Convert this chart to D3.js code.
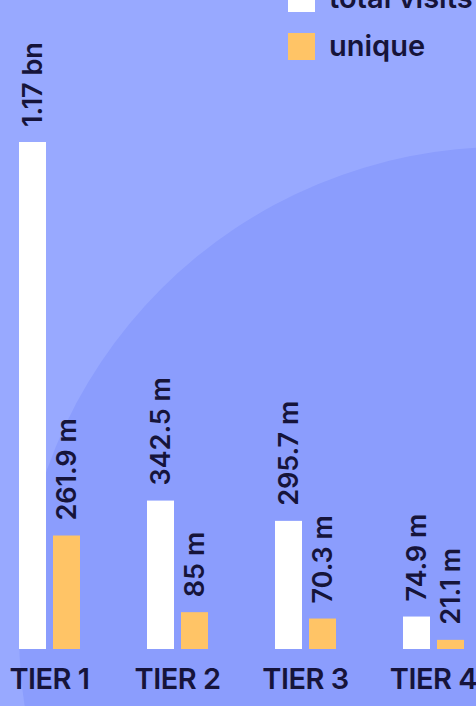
<!DOCTYPE html>
<html lang="en">
<head>
    <meta charset="utf-8"/>
    <title>Visits by tier</title>
    <script src="https://d3js.org/d3.v7.min.js"></script>
    <style>
        html, body { margin: 0; padding: 0; background: #98a9ff; overflow: hidden; }
        svg { display: block; }
        text { font-family: Inter, "Noto Sans", sans-serif; fill: #16143a; }
    </style>
</head>
<body>
<script>
    // chart data (values in millions)
    const tiers = ["TIER 1", "TIER 2", "TIER 3", "TIER 4"];
    const series = ["total visits", "unique"];
    const totalVisits = [1170, 342.5, 295.7, 74.9];
    const uniqueVisits = [261.9, 85, 70.3, 21.1];
    const valueLabels = [
        ["1.17 bn", "261.9 m"],
        ["342.5 m", "85 m"],
        ["295.7 m", "70.3 m"],
        ["74.9 m", "21.1 m"]
    ];
    const colors = ["#ffffff", "#ffc466"];

    const width = 476, height = 706;

    const svg = d3.select("body")
        .append("svg")
        .attr("width", width)
        .attr("height", height);

    // background: flat fill with a big darker circle
    svg.append("rect")
        .attr("width", width)
        .attr("height", height)
        .attr("fill", "#98a9ff");
    svg.append("circle")
        .attr("cx", 504)
        .attr("cy", 632)
        .attr("r", 485)
        .attr("fill", "#8b9dfd");

    // scales
    const x0 = d3.scaleBand()
        .domain(tiers)
        .range([19, 464])
        .paddingInner(67 / 128)
        .paddingOuter(0);

    const x1 = d3.scaleBand()
        .domain(series)
        .range([0, x0.bandwidth()])
        .paddingInner(7 / 34);

    const y = d3.scaleLinear()
        .domain([0, 1170])
        .range([649, 142]);

    const rows = tiers.map((t, i) => ({
        tier: t,
        vals: [
            {key: series[0], value: totalVisits[i], label: valueLabels[i][0]},
            {key: series[1], value: uniqueVisits[i], label: valueLabels[i][1]}
        ]
    }));

    const groups = svg.selectAll("g.tier")
        .data(rows)
        .enter()
        .append("g")
        .attr("class", "tier")
        .attr("transform", d => `translate(${x0(d.tier)},0)`);

    groups.selectAll("rect")
        .data(d => d.vals)
        .enter()
        .append("rect")
        .attr("x", d => x1(d.key))
        .attr("y", d => y(d.value))
        .attr("width", x1.bandwidth())
        .attr("height", d => y(0) - y(d.value))
        .attr("fill", (d, i) => colors[i]);

    // rotated value labels above each bar
    groups.selectAll("text.value")
        .data(d => d.vals)
        .enter()
        .append("text")
        .attr("class", "value")
        .attr("transform", d => `translate(${x1(d.key) + x1.bandwidth() / 2},${y(d.value) - 15}) rotate(-90)`)
        .attr("dy", "0.36em")
        .attr("text-anchor", "start")
        .style("font-size", "27px")
        .style("font-weight", 600)
        .text(d => d.label);

    // tier labels (x axis without line/ticks)
    const xAxis = svg.append("g")
        .attr("transform", "translate(0,689)")
        .call(d3.axisBottom(x0).tickSize(0).tickPadding(0));
    xAxis.select(".domain").remove();
    xAxis.selectAll("text")
        .attr("dy", 0)
        .style("font-family", "Inter, sans-serif")
        .style("font-size", "29px")
        .style("font-weight", 600)
        .style("letter-spacing", "-0.5px")
        .attr("fill", "#16143a");

    // legend, top right (first row runs off the top edge)
    const legend = svg.selectAll("g.legend")
        .data(series)
        .enter()
        .append("g")
        .attr("class", "legend")
        .attr("transform", (d, i) => `translate(288,${-15 + i * 48})`);

    legend.append("rect")
        .attr("width", 27)
        .attr("height", 27)
        .attr("fill", (d, i) => colors[i]);

    legend.append("text")
        .attr("x", 41)
        .attr("y", 23)
        .style("font-size", "29px")
        .style("font-weight", 600)
        .text(d => d);
</script>
</body>
</html>
